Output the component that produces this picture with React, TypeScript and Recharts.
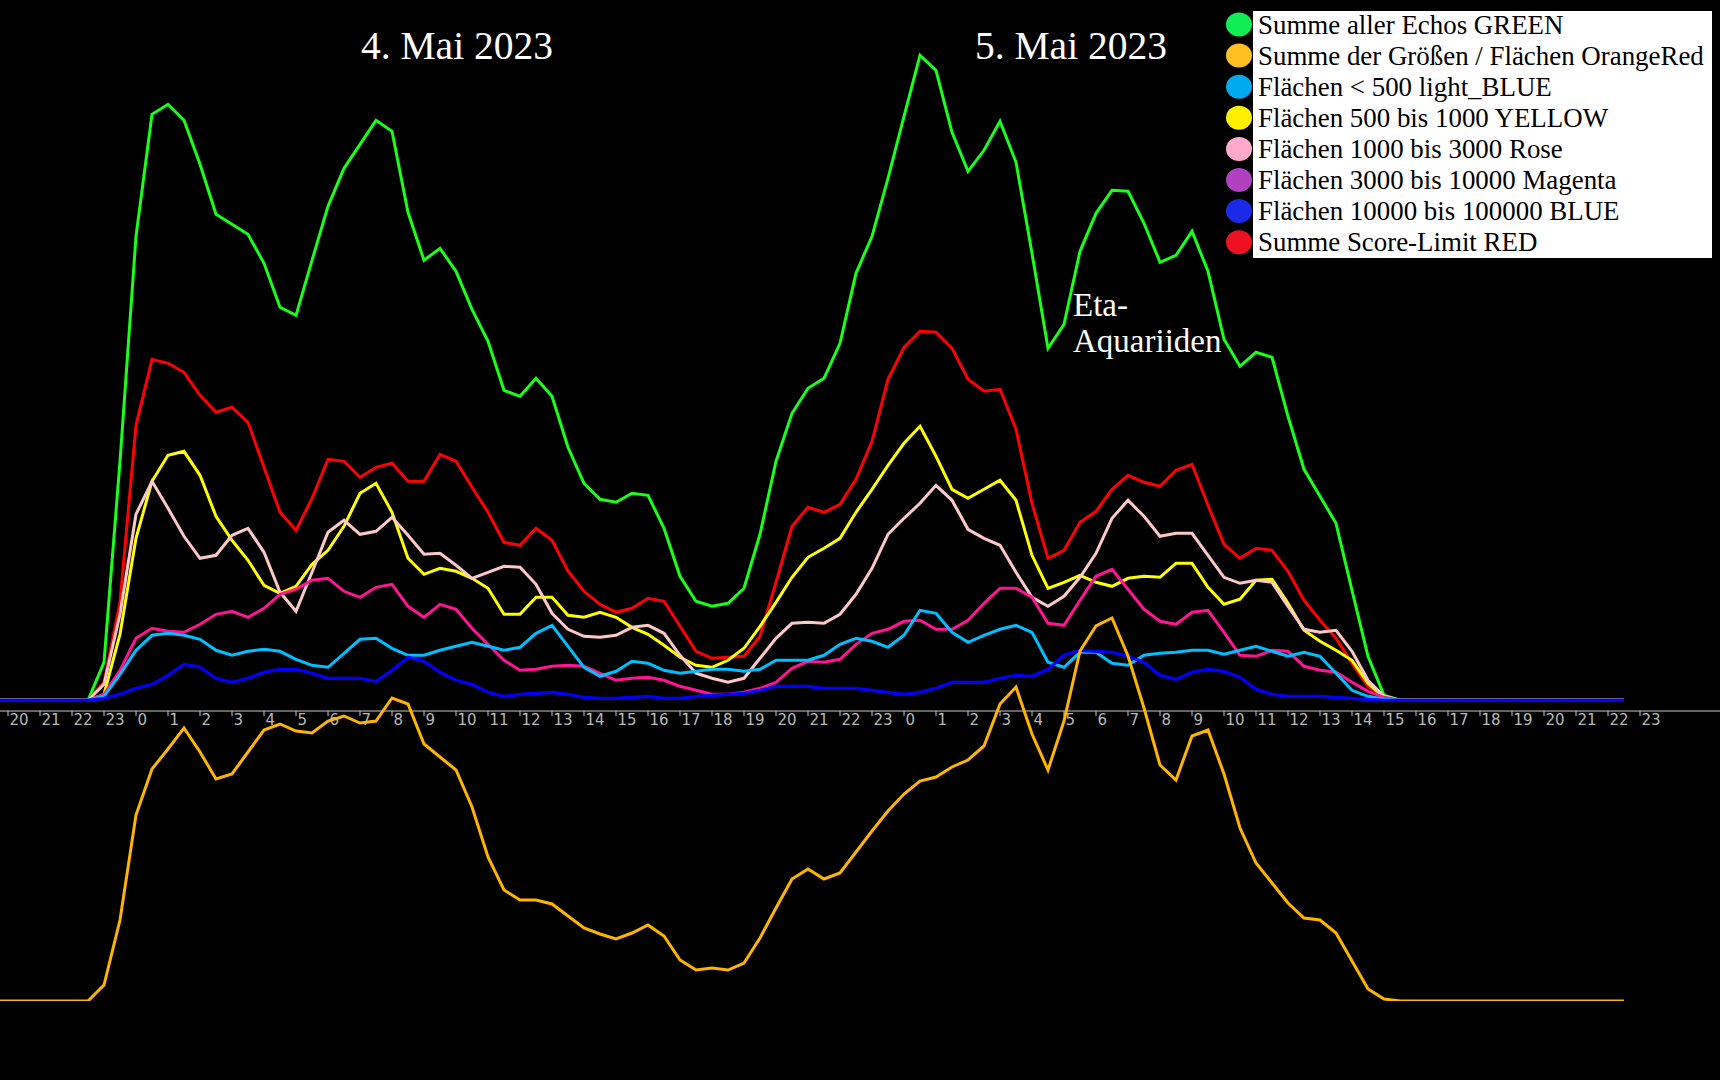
import React from 'react';
import { LineChart, Line, XAxis, YAxis, Legend } from 'recharts';

// half-hour slots, hours counted from 20:00 on 3 May (first slot 19:30)
const slotHours: number[] = Array.from({ length: 103 }, (_, k) => (k - 1) / 2);

// hourly ticks on the time axis
const tickHours: number[] = Array.from({ length: 52 }, (_, k) => k);
const tickLabels: string[] = [
  '20', '21', '22', '23',
  '0', '1', '2', '3', '4', '5', '6', '7', '8', '9', '10', '11', '12', '13', '14', '15', '16', '17', '18', '19', '20', '21', '22', '23',
  '0', '1', '2', '3', '4', '5', '6', '7', '8', '9', '10', '11', '12', '13', '14', '15', '16', '17', '18', '19', '20', '21', '22', '23',
];

const green = [0, 0, 0, 0, 0, 0, 0,
  38, 239, 464, 586, 596, 580, 536, 486, 476, 466, 437, 393, 385, 440, 494, 532, 556, 580, 569, 488, 440, 452, 429, 391, 359,
  310, 304, 322, 304, 253, 217, 201, 198, 207, 205, 172, 124, 99, 94, 97, 112, 166, 239, 287, 312, 322, 357, 427, 464, 522, 584,
  645, 630, 568, 529, 550, 579, 538, 447, 352, 376, 449, 487, 510, 509, 477, 438, 445, 469, 429, 361, 334, 348, 343, 284, 231, 204, 177, 110, 44, 5, 0,
  0, 0, 0, 0, 0, 0, 0, 0, 0, 0, 0, 0, 0, 0];

const red = [0, 0, 0, 0, 0, 0, 0,
  18, 98, 275, 341, 337, 328, 305, 288, 293, 278, 233, 188, 170, 202, 241, 239, 223, 233, 237, 219, 219, 246, 239, 213, 188,
  158, 155, 172, 160, 129, 109, 96, 88, 92, 102, 99, 74, 49, 42, 43, 44, 64, 118, 174, 193, 188, 196, 221, 259, 321, 353,
  369, 368, 352, 321, 309, 311, 271, 197, 142, 150, 178, 189, 211, 225, 218, 214, 230, 236, 195, 156, 142, 152, 150, 129, 100, 80, 62, 37, 14, 3, 0,
  0, 0, 0, 0, 0, 0, 0, 0, 0, 0, 0, 0, 0, 0];

const yellow = [0, 0, 0, 0, 0, 0, 0,
  6, 66, 162, 219, 245, 249, 225, 184, 160, 140, 115, 107, 114, 136, 150, 174, 207, 217, 188, 142, 126, 132, 129, 122, 112,
  86, 86, 103, 103, 85, 83, 88, 83, 73, 66, 55, 43, 35, 33, 40, 52, 74, 98, 123, 143, 152, 162, 188, 211, 235, 257,
  274, 244, 211, 202, 211, 220, 200, 145, 112, 118, 125, 118, 114, 122, 124, 123, 137, 137, 113, 96, 101, 120, 121, 97, 70, 59, 50, 40, 17, 3, 0,
  0, 0, 0, 0, 0, 0, 0, 0, 0, 0, 0, 0, 0, 0];

const rose = [0, 0, 0, 0, 0, 0, 0,
  16, 86, 186, 219, 192, 164, 142, 145, 165, 172, 148, 108, 89, 128, 168, 180, 166, 169, 183, 165, 146, 147, 135, 122, 128,
  134, 133, 116, 87, 71, 64, 63, 65, 73, 75, 67, 45, 27, 22, 18, 22, 42, 62, 77, 78, 77, 86, 106, 132, 166, 182,
  197, 215, 200, 171, 162, 155, 128, 103, 94, 104, 123, 147, 182, 200, 184, 164, 167, 167, 145, 123, 117, 120, 118, 94, 71, 68, 70, 49, 20, 4, 0,
  0, 0, 0, 0, 0, 0, 0, 0, 0, 0, 0, 0, 0, 0];

const magenta = [0, 0, 0, 0, 0, 0, 0,
  6, 30, 62, 72, 69, 68, 76, 86, 89, 83, 92, 106, 111, 120, 122, 109, 103, 113, 116, 94, 83, 96, 91, 72, 56,
  40, 30, 31, 34, 35, 34, 27, 20, 22, 23, 20, 14, 10, 6, 6, 8, 12, 18, 32, 39, 38, 41, 56, 67, 71, 79,
  80, 71, 71, 80, 97, 112, 112, 103, 77, 75, 100, 124, 131, 111, 91, 79, 76, 88, 90, 68, 45, 44, 50, 49, 34, 30, 28, 18, 9, 3, 0,
  0, 0, 0, 0, 0, 0, 0, 0, 0, 0, 0, 0, 0, 0];

const lightBlue = [0, 0, 0, 0, 0, 0, 0,
  4, 26, 50, 65, 67, 65, 61, 50, 45, 49, 51, 49, 41, 35, 33, 47, 61, 62, 52, 45, 45, 50, 54, 58, 54,
  50, 53, 67, 75, 54, 33, 24, 29, 39, 37, 30, 27, 29, 31, 31, 29, 31, 40, 40, 40, 45, 56, 62, 59, 53, 65,
  90, 87, 68, 58, 65, 71, 75, 68, 38, 33, 48, 48, 37, 35, 45, 47, 48, 50, 50, 46, 50, 54, 49, 44, 48, 44, 27, 10, 4, 1, 0,
  0, 0, 0, 0, 0, 0, 0, 0, 0, 0, 0, 0, 0, 0];

const blue = [0, 0, 0, 0, 0, 0, 0,
  2, 6, 12, 16, 25, 36, 33, 22, 18, 22, 28, 31, 31, 27, 22, 22, 22, 19, 30, 43, 39, 28, 20, 16, 8,
  4, 6, 7, 8, 6, 3, 2, 2, 3, 4, 2, 2, 4, 5, 6, 7, 10, 14, 14, 14, 12, 12, 12, 10, 8, 6,
  8, 12, 18, 18, 18, 22, 25, 24, 31, 45, 50, 49, 48, 44, 38, 25, 21, 28, 31, 29, 23, 11, 6, 4, 4, 4, 3, 2, 1, 0, 0,
  0, 0, 0, 0, 0, 0, 0, 0, 0, 0, 0, 0, 0, 0];

const orange = [0, 0, 0, 0, 0, 0, 0,
  16, 81, 186, 232, 252, 273, 249, 222, 227, 249, 271, 277, 270, 268, 280, 285, 278, 280, 303, 297, 257, 244, 231, 194, 144,
  111, 101, 101, 97, 85, 73, 67, 62, 68, 76, 65, 41, 31, 33, 31, 38, 63, 93, 122, 132, 122, 128, 149, 170, 190, 207,
  220, 224, 234, 241, 255, 297, 314, 267, 231, 280, 350, 375, 383, 345, 293, 236, 221, 265, 271, 227, 173, 138, 118, 98, 83, 81, 68, 40, 12, 2, 0,
  0, 0, 0, 0, 0, 0, 0, 0, 0, 0, 0, 0, 0, 0];

const legendLabels = [
  'Summe aller Echos GREEN',
  'Summe der Größen / Flächen OrangeRed',
  'Flächen < 500 light_BLUE',
  'Flächen 500 bis 1000 YELLOW',
  'Flächen 1000 bis 3000 Rose',
  'Flächen 3000 bis 10000 Magenta',
  'Flächen 10000 bis 100000 BLUE',
  'Summe Score-Limit RED',
];
const legendColors = ['#11ee55', '#ffc020', '#00aaee', '#ffee00', '#ffaacc', '#b040c0', '#1a2ae8', '#ee1122'];

const rows = slotHours.map((t, k) => ({
  t,
  green: green[k],
  red: red[k],
  yellow: yellow[k],
  rose: rose[k],
  magenta: magenta[k],
  lightBlue: lightBlue[k],
  blue: blue[k],
  orange: orange[k],
}));

const X_DOMAIN: [number, number] = [-0.25, 53.5];
const SERIF = '"Liberation Serif", "Times New Roman", serif';
const SW = 3;

const AxisTick = (props: any) => {
  const { x, y, payload } = props;
  const idx = tickHours.indexOf(payload.value);
  return (
    <text x={x + 1.5} y={y + 9} fill="#b8b8b8" fontSize={15} fontFamily="DejaVu Sans" textAnchor="start">
      {tickLabels[idx]}
    </text>
  );
};

const LegendBox = () => (
  <svg width={500} height={270} style={{ display: 'block' }}>
    <rect x={33} y={11} width={459} height={247} fill="#ffffff" />
    {legendLabels.map((label, k) => (
      <g key={label}>
        <ellipse cx={19} cy={24.5 + 31.1 * k} rx={13} ry={12} fill={legendColors[k]} />
        <text x={38} y={33.5 + 31.1 * k} fontSize={26.9} fontFamily={SERIF} fill="#000000">
          {label}
        </text>
      </g>
    ))}
  </svg>
);

export default function App() {
  return (
    <div style={{ position: 'fixed', left: 0, top: 0, width: 1720, height: 1080, background: '#000000', overflow: 'hidden' }}>
      <div style={{ position: 'absolute', left: 0, top: 0 }}>
        <LineChart width={1720} height={760} data={rows} margin={{ top: 0, right: 0, bottom: 0, left: 0 }}>
          <XAxis
            dataKey="t"
            type="number"
            domain={X_DOMAIN}
            allowDataOverflow
            ticks={tickHours}
            interval={0}
            height={49}
            tickSize={5}
            tickMargin={0}
            axisLine={{ stroke: '#c8c8c8', strokeWidth: 1 }}
            tickLine={{ stroke: '#c8c8c8', strokeWidth: 1 }}
            tick={<AxisTick />}
          />
          <YAxis hide domain={[-10.7, 700.3]} allowDataOverflow />
          <Legend
            layout="vertical"
            align="center"
            verticalAlign="middle"
            content={<LegendBox />}
            wrapperStyle={{ position: 'absolute', left: 1220, top: 0, width: 500, height: 270 }}
          />
          <Line dataKey="green" name={legendLabels[0]} stroke="#1aff1a" strokeWidth={SW} dot={false} isAnimationActive={false} />
          <Line dataKey="red" name={legendLabels[7]} stroke="#ff0000" strokeWidth={SW} dot={false} isAnimationActive={false} />
          <Line dataKey="yellow" name={legendLabels[3]} stroke="#ffff00" strokeWidth={SW} dot={false} isAnimationActive={false} />
          <Line dataKey="rose" name={legendLabels[4]} stroke="#ffc8c8" strokeWidth={SW} dot={false} isAnimationActive={false} />
          <Line dataKey="magenta" name={legendLabels[5]} stroke="#ff1493" strokeWidth={SW} dot={false} isAnimationActive={false} />
          <Line dataKey="lightBlue" name={legendLabels[2]} stroke="#00bfff" strokeWidth={SW} dot={false} isAnimationActive={false} />
          <Line dataKey="blue" name={legendLabels[6]} stroke="#0000ff" strokeWidth={3.2} dot={false} isAnimationActive={false} />
        </LineChart>
      </div>
      <div style={{ position: 'absolute', left: 0, top: 0, pointerEvents: 'none' }}>
        <LineChart width={1720} height={1001} data={rows} margin={{ top: 0, right: 0, bottom: 0, left: 0 }}>
          <XAxis dataKey="t" type="number" domain={X_DOMAIN} allowDataOverflow hide />
          <YAxis hide domain={[0, 1001]} allowDataOverflow />
          <Line dataKey="orange" name={legendLabels[1]} stroke="#ffb400" strokeWidth={SW} dot={false} isAnimationActive={false} />
        </LineChart>
      </div>
      <svg width={1720} height={1080} style={{ position: 'absolute', left: 0, top: 0, pointerEvents: 'none' }}>
        <text x={361} y={59} fontSize={39.5} fontFamily={SERIF} fill="#ffffff">4. Mai 2023</text>
        <text x={975} y={59} fontSize={39.5} fontFamily={SERIF} fill="#ffffff">5. Mai 2023</text>
        <text x={1073} y={316} fontSize={33} fontFamily={SERIF} fill="#ffffff">Eta-</text>
        <text x={1073} y={352} fontSize={33} fontFamily={SERIF} fill="#ffffff">Aquariiden</text>
      </svg>
    </div>
  );
}
